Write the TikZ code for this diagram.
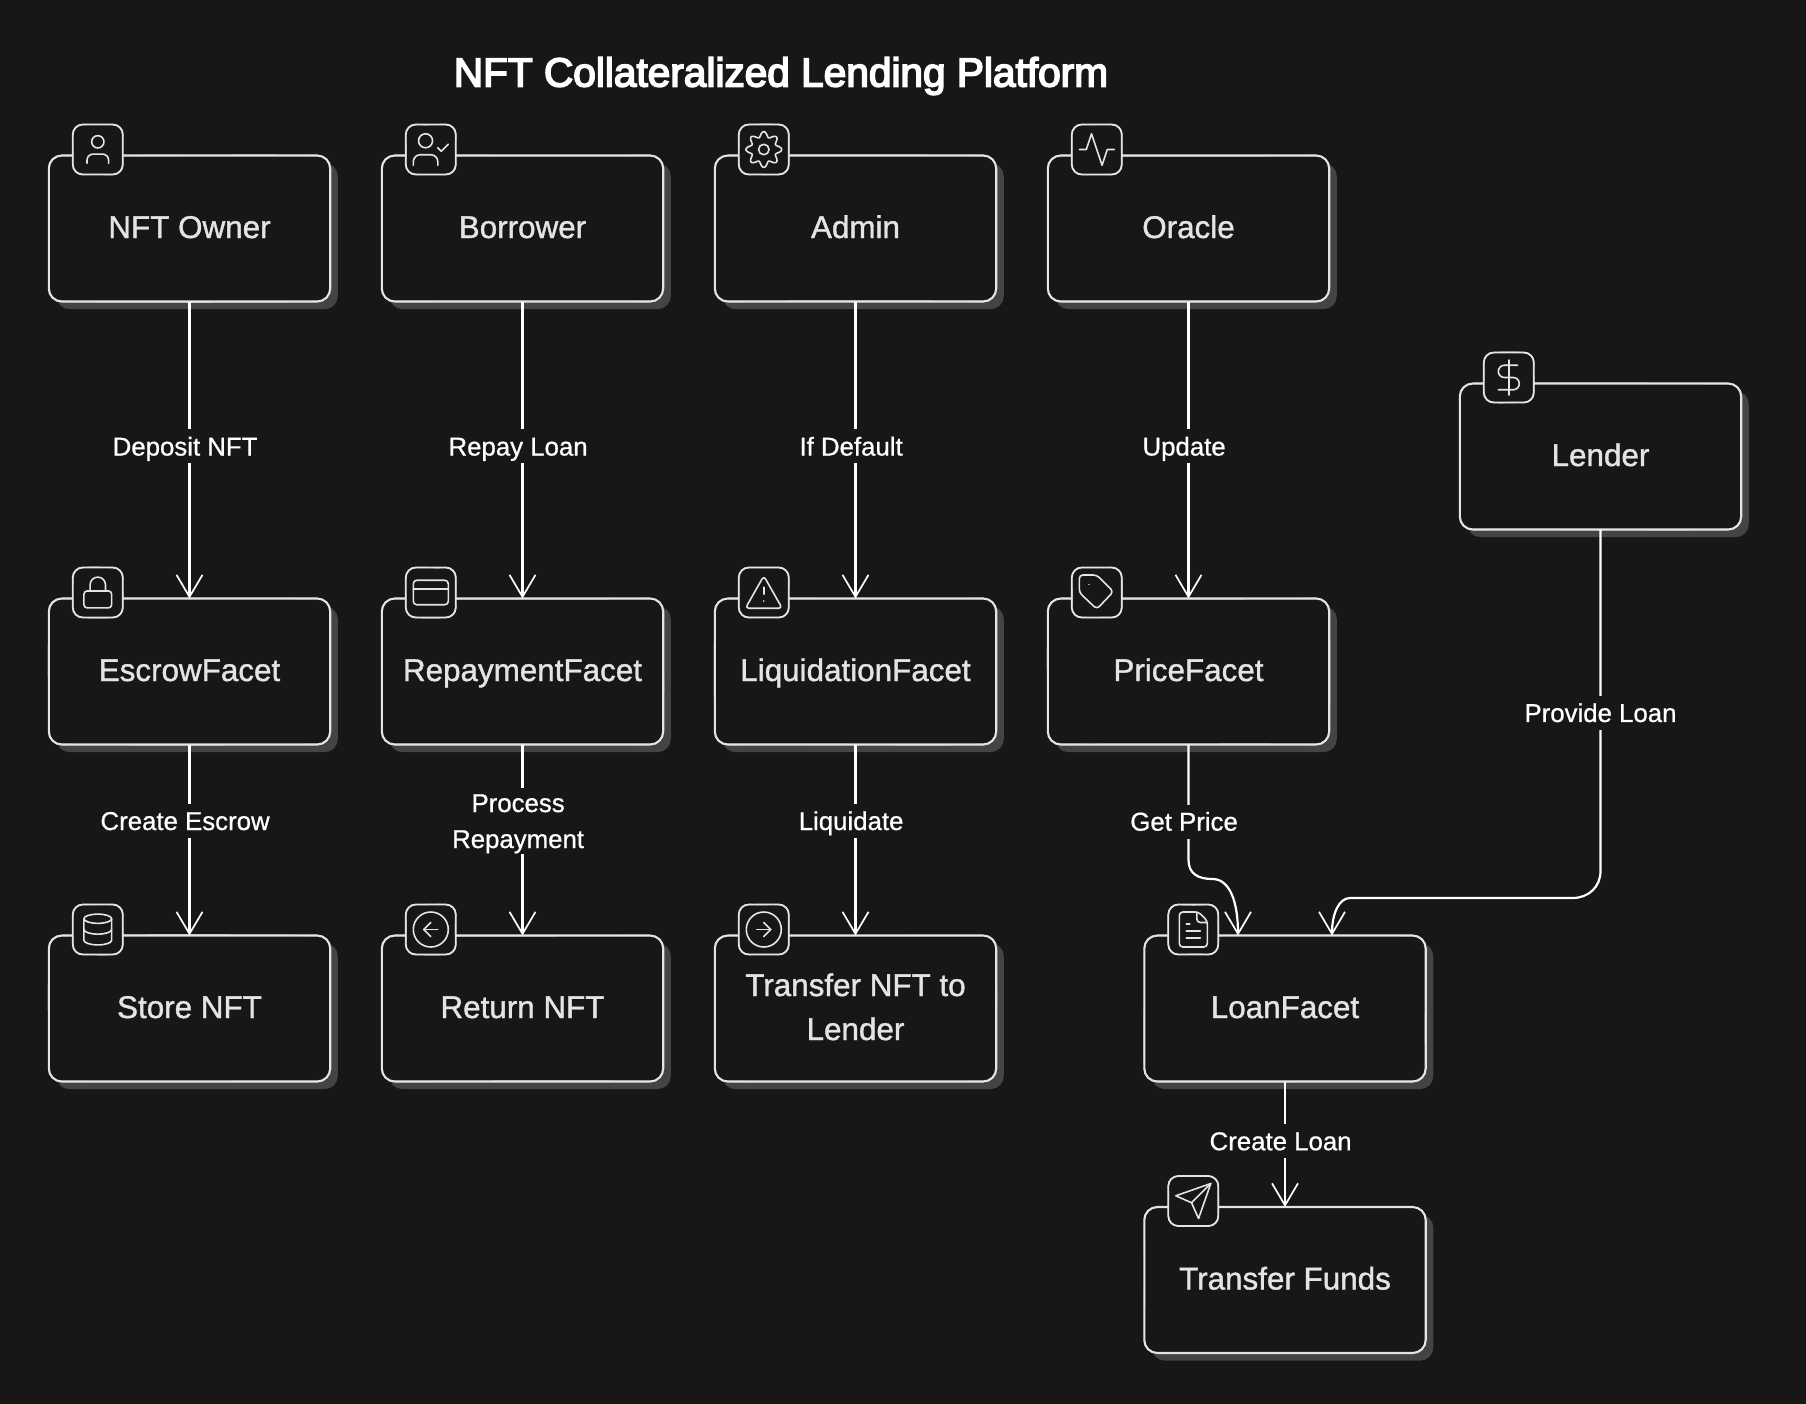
\documentclass[tikz,border=0pt]{standalone}
\usepackage{fontspec}
\setmainfont{Liberation Sans}
\newfontfamily\boxfont[FakeBold=1.2]{Liberation Sans}
\newfontfamily\labfont[FakeBold=0.8]{Liberation Sans}
\newfontfamily\titlefont[FakeBold=4]{Liberation Sans}
\usetikzlibrary{arrows.meta,shadows,calc}
\definecolor{bgc}{HTML}{171717}
\definecolor{shc}{HTML}{444444}
\definecolor{linec}{HTML}{E4E4E4}
\newcommand{\bs}{\rule[-4.5pt]{0pt}{18.5pt}}
\newcommand{\ls}{\rule[-2.9pt]{0pt}{14.9pt}}
\tikzset{
  box/.style={draw=linec,line width=1.05pt,fill=bgc,rounded corners=6.5pt,minimum width=140.7pt,minimum height=73pt,
    inner sep=0pt,outer sep=0pt,align=center,text=linec,font=\boxfont\fontsize{15.7}{22}\selectfont,
    drop shadow={shadow xshift=3.8pt,shadow yshift=-3.8pt,fill=shc,opacity=1}},
  iconbox/.style={draw=linec,line width=.9pt,fill=bgc,rounded corners=5pt,minimum size=25pt,inner sep=0pt,outer sep=0pt},
  sketchline/.style={draw=linec,line width=.55pt,line cap=round},
  glyph/.style={draw=linec,line width=.8pt,line join=round,line cap=round},
  edge/.style={draw=white,line width=1.1pt,-{Straight Barb[length=11pt,width=13pt,line width=.85pt]}},
  lab/.style={fill=bgc,text=white,inner xsep=1pt,inner ysep=0pt,minimum height=17pt,align=center,font=\labfont\fontsize{12.9}{18}\selectfont,xshift=-2.2pt},
  svg/.style={x=.875pt,y=-.875pt,shift={(-12,-12)},glyph},
  svgs/.style={x=.77pt,y=-.77pt,shift={(-12,-12)},glyph},
  pics/iuser/.style={code={\begin{scope}[svgs]
    \draw (12,7) circle (4);
    \draw[rounded corners=3pt] (19,21) -- (19,15) -- (5,15) -- (5,21);
  \end{scope}}},
  pics/iusercheck/.style={code={\begin{scope}[svg]
    \draw (9,7) circle (4);
    \draw[rounded corners=3.5pt] (16,21) -- (16,15) -- (2,15) -- (2,21);
    \draw (16,11) -- (18,13) -- (22,9);
  \end{scope}}},
  pics/igear/.style={code={\begin{scope}[svg]
    \draw (12,12) circle (3);
    \draw plot[domain=0:360,samples=145,smooth] ({12+(8.7+1.5*cos(8*\x))*cos(\x)},{12+(8.7+1.5*cos(8*\x))*sin(\x)}) -- cycle;
  \end{scope}}},
  pics/iactivity/.style={code={\begin{scope}[svg]
    \draw (2,12) -- (6,12) -- (9,3) -- (15,21) -- (18,12) -- (22,12);
  \end{scope}}},
  pics/ilock/.style={code={\begin{scope}[svgs]
    \draw[rounded corners=1.6pt] (3,11) rectangle (21,22);
    \draw (7,11) -- (7,7) arc (180:360:5) -- (17,11);
  \end{scope}}},
  pics/icard/.style={code={\begin{scope}[svg]
    \draw[rounded corners=1.75pt] (2,5) rectangle (22,19);
    \draw (2,10) -- (22,10);
  \end{scope}}},
  pics/ialert/.style={code={\begin{scope}[svg]
    \draw[rounded corners=1.75pt] (12,2.5) -- (22.5,21) -- (1.5,21) -- cycle;
    \draw (12,9) -- (12,13);
    \draw (12,17) -- (12.01,17);
  \end{scope}}},
  pics/itag/.style={code={\begin{scope}[svg]
    \draw[rounded corners=1.75pt] (2,2) -- (12,2) -- (21.5,11.5) -- (12,21.5) -- (2,12) -- cycle;
    \draw (7.5,7.5) -- (7.51,7.5);
  \end{scope}}},
  pics/idb/.style={code={\begin{scope}[svgs]
    \draw (12,5) ellipse (9 and 3);
    \draw (3,5) -- (3,19) arc (180:0:9 and 3) -- (21,5);
    \draw (3,12) arc (180:0:9 and 3);
  \end{scope}}},
  pics/ileft/.style={code={\begin{scope}[svg]
    \draw (12,12) circle (10);
    \draw (12,8) -- (8,12) -- (12,16);
    \draw (16,12) -- (8,12);
  \end{scope}}},
  pics/iright/.style={code={\begin{scope}[svg]
    \draw (12,12) circle (10);
    \draw (12,16) -- (16,12) -- (12,8);
    \draw (8,12) -- (16,12);
  \end{scope}}},
  pics/ifile/.style={code={\begin{scope}[svg]
    \draw[rounded corners=1.75pt] (15,2) -- (4,2) -- (4,22) -- (20,22) -- (20,7) -- cycle;
    \draw[rounded corners=1.75pt] (14,2) -- (14,8) -- (20,8);
    \draw (10,9) -- (8,9);
    \draw (16,13) -- (8,13);
    \draw (16,17) -- (8,17);
  \end{scope}}},
  pics/isend/.style={code={\begin{scope}[svg]
    \draw (22,2) -- (15,22) -- (11,13) -- (2,9) -- cycle;
    \draw (22,2) -- (11,13);
  \end{scope}}},
  pics/idollar/.style={code={\begin{scope}[svg]
    \draw (12,2) -- (12,22);
    \draw (17,5) -- (9.5,5) arc (270:90:3.5) -- (14.5,12) arc (-90:90:3.5) -- (6,19);
  \end{scope}}},
}
% second, slightly wandering stroke over a node's outline: node, corner size, control reach
\newcommand{\sketch}[3]{%
  \draw[sketchline]
    ([xshift=#2]#1.north west) .. controls +(#3,{.7*rand}) and +(-#3,{.7*rand}) .. ([xshift=-#2]#1.north east)
    .. controls +(.55*#2,0) and +(0,.55*#2) .. ([yshift=-#2]#1.north east)
    .. controls +({.7*rand},-#3) and +({.7*rand},#3) .. ([yshift=#2]#1.south east)
    .. controls +(0,-.55*#2) and +(.55*#2,0) .. ([xshift=-#2]#1.south east)
    .. controls +(-#3,{.7*rand}) and +(#3,{.7*rand}) .. ([xshift=#2]#1.south west)
    .. controls +(-.55*#2,0) and +(0,-.55*#2) .. ([yshift=#2]#1.south west)
    .. controls +({.7*rand},#3) and +({.7*rand},-#3) .. ([yshift=-#2]#1.north west)
    .. controls +(0,.55*#2) and +(-.55*#2,0) .. ([xshift=#2]#1.north west);
}
\newcommand{\mkbox}[5]{% name, cx, cy, text, icon
  \node[box] (#1) at (#2,#3) {#4};
  \sketch{#1}{6.5pt}{40pt}
  \node[iconbox] (#1i) at ([shift={(49,-6)}]#1.north west) {};
  \sketch{#1i}{5pt}{5pt}
  \pic at (#1i.center) {#5};
}
\begin{document}
\begin{tikzpicture}[x=.5pt,y=-.5pt]
\pgfmathsetseed{4217}
\useasboundingbox (0,0) rectangle (1806,1404);
\fill[bgc] (0,0) rectangle (1806,1404);
\node[text=white,font=\titlefont\fontsize{20.3}{24}\selectfont] (title) at (781,76) {\rule[-2pt]{0pt}{14pt}NFT Collateralized Lending Platform};

\mkbox{owner}{189.5}{228.5}{\bs NFT Owner}{iuser}
\mkbox{borrower}{522.5}{228.5}{\bs Borrower}{iusercheck}
\mkbox{admin}{855.5}{228.5}{\bs Admin}{igear}
\mkbox{oracle}{1188.5}{228.5}{\bs Oracle}{iactivity}
\mkbox{lender}{1600.5}{456.5}{\bs Lender}{idollar}
\mkbox{escrow}{189.5}{671.5}{\bs EscrowFacet}{ilock}
\mkbox{repay}{522.5}{671.5}{\bs RepaymentFacet}{icard}
\mkbox{liq}{855.5}{671.5}{\bs LiquidationFacet}{ialert}
\mkbox{price}{1188.5}{671.5}{\bs PriceFacet}{itag}
\mkbox{store}{189.5}{1008.5}{\bs Store NFT}{idb}
\mkbox{return}{522.5}{1008.5}{\bs Return NFT}{ileft}
\mkbox{transfer}{855.5}{1008.5}{\bs Transfer NFT to\\\bs Lender}{iright}
\mkbox{loan}{1285}{1008.5}{\bs LoanFacet}{ifile}
\mkbox{funds}{1285}{1280}{\bs Transfer Funds}{isend}

\coordinate (loanA) at ([xshift=-23.5pt]loan.north);
\coordinate (loanB) at ([xshift=23.5pt]loan.north);
\coordinate (bendA) at (1188.5,860);
\coordinate (bendB) at (1600.5,871);
\coordinate (bendC) at (1350,898);

\draw[edge] (owner.south) -- node[lab,pos=.488]{\ls Deposit NFT} (escrow.north);
\draw[edge] (borrower.south) -- node[lab,pos=.488]{\ls Repay Loan} (repay.north);
\draw[edge] (admin.south) -- node[lab,pos=.488]{\ls If Default} (liq.north);
\draw[edge] (oracle.south) -- node[lab,pos=.488]{\ls Update} (price.north);
\draw[edge] (escrow.south) -- node[lab,pos=.4]{\ls Create Escrow} (store.north);
\draw[edge] (repay.south) -- node[lab,pos=.4]{\ls Process\\\ls Repayment} (return.north);
\draw[edge] (liq.south) -- node[lab,pos=.4]{\ls Liquidate} (transfer.north);
\draw[edge] (loan.south) -- node[lab,pos=.475]{\ls Create Loan} (funds.north);
\draw[edge] (price.south) -- node[lab,pos=.667]{\ls Get Price} (bendA)
  .. controls +(0,14) and +(-14,0) .. ++(24,19)
  .. controls +(18,0) and +(0,-32) .. (loanA);
\draw[edge] (lender.south) -- node[lab,pos=.537,xshift=2.2pt]{\ls Provide Loan} (bendB)
  .. controls +(0,16) and +(16,0) .. ++(-28,27) -- (bendC)
  .. controls +(-11,0) and +(0,-22) .. (loanB);
\end{tikzpicture}
\end{document}
